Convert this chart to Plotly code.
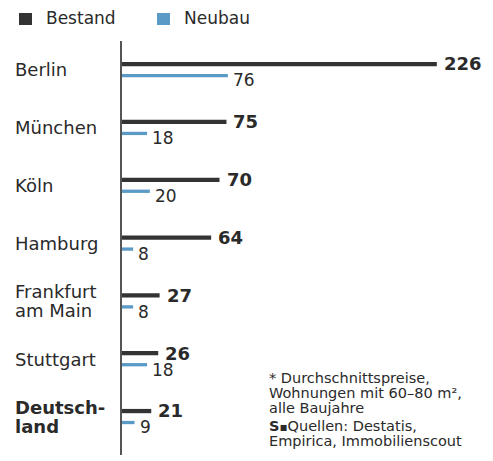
import plotly.graph_objects as go

# ---- data ----
cities = ["Berlin", "München", "Köln", "Hamburg", "Frankfurt am Main", "Stuttgart", "Deutschland"]
city_labels = ["Berlin", "München", "Köln", "Hamburg", "Frankfurt\nam Main", "Stuttgart", "Deutsch-\nland"]
bold_labels = [False, False, False, False, False, False, True]
bestand = [226, 75, 70, 64, 27, 26, 21]
neubau = [76, 18, 20, 8, 8, 18, 9]
legend_names = ["Bestand", "Neubau"]
footnote_1 = ["* Durchschnittspreise,", "Wohnungen mit 60–80 m²,", "alle Baujahre"]
footnote_2 = ["<b>S</b><span style='font-size:12px'>▪</span>Quellen: Destatis,",
              "Empirica, Immobilienscout"]

# ---- style ----
W, H = 493, 461
ML, MR, MT, MB = 122, 11, 41, 6
PW, PH = W - ML - MR, H - MT - MB
XSCALE = 1.393
DARK = "#333333"
TEXT = "#2a2a2a"
BLUE = "#5a9ac6"
FONT = "DejaVu Sans"


def px_x(p):
    return (p - ML) / PW


def px_y(p):
    return (H - MB - p) / PH


fig = go.Figure()
fig.add_trace(go.Bar(
    y=cities, x=bestand, orientation="h", name=legend_names[0],
    marker=dict(color=DARK, line=dict(width=0)),
    width=0.074, offset=-0.137, hoverinfo="x+y",
))
fig.add_trace(go.Bar(
    y=cities, x=neubau, orientation="h", name=legend_names[1],
    marker=dict(color=BLUE, line=dict(width=0)),
    width=0.057, offset=0.07, hoverinfo="x+y",
))

annotations = []
# value labels
for c, v in zip(cities, bestand):
    annotations.append(dict(
        x=v, y=c, xref="x", yref="y", text=f"<b>{v}</b>", showarrow=False,
        xanchor="left", yanchor="middle", xshift=5, yshift=6.0,
        font=dict(family=FONT, size=18, color=TEXT),
    ))
for c, v in zip(cities, neubau):
    annotations.append(dict(
        x=v, y=c, xref="x", yref="y", text=str(v), showarrow=False,
        xanchor="left", yanchor="middle", xshift=3, yshift=-10.5,
        font=dict(family=FONT, size=17, color=TEXT),
    ))

# city labels (left aligned)
for c, lab, b in zip(cities, city_labels, bold_labels):
    lines = lab.split("\n")
    n = len(lines)
    for k, line in enumerate(lines):
        t = f"<b>{line}</b>" if b else line
        annotations.append(dict(
            x=px_x(13), y=c, xref="paper", yref="y", text=t, showarrow=False,
            xanchor="left", yanchor="middle",
            yshift=((n - 1) / 2 - k) * 19.5,
            font=dict(family=FONT, size=18, color=TEXT),
        ))

# legend
shapes = []
leg_sq = [(19, 32), (157, 170)]
leg_tx = [44, 182]
for name, col, (x0, x1), tx in zip(legend_names, [DARK, BLUE], leg_sq, leg_tx):
    shapes.append(dict(type="rect", xref="paper", yref="paper",
                       x0=px_x(x0), x1=px_x(x1), y0=px_y(25), y1=px_y(13),
                       fillcolor=col, line=dict(width=0)))
    annotations.append(dict(
        x=px_x(tx), y=px_y(18.5), xref="paper", yref="paper", text=name,
        showarrow=False, xanchor="left", yanchor="middle",
        font=dict(family=FONT, size=17, color=TEXT),
    ))

# footnotes
foot_y = [377.5, 392.5, 407.5, 426.0, 441.0]
for line, yy in zip(footnote_1 + footnote_2, foot_y):
    annotations.append(dict(
        x=px_x(267), y=px_y(yy), xref="paper", yref="paper", text=line,
        showarrow=False, xanchor="left", yanchor="middle",
        font=dict(family=FONT, size=14.5, color=TEXT),
    ))

fig.update_layout(
    width=W, height=H,
    margin=dict(l=ML, r=MR, t=MT, b=MB),
    paper_bgcolor="white", plot_bgcolor="white",
    barmode="overlay", showlegend=False,
    xaxis=dict(range=[0, PW / XSCALE], visible=False, fixedrange=True),
    yaxis=dict(type="category", categoryorder="array", categoryarray=cities,
               range=[6.66, -0.5], showticklabels=False, showgrid=False,
               zeroline=False, showline=True, linecolor="#555555", linewidth=1.5,
               ticks="", fixedrange=True),
    annotations=annotations, shapes=shapes,
    font=dict(family=FONT, color=TEXT),
)

fig.write_html(
    "out.html",
    config={"displayModeBar": False},
    post_script="document.body.style.margin='0px';document.body.style.padding='0px';",
)
